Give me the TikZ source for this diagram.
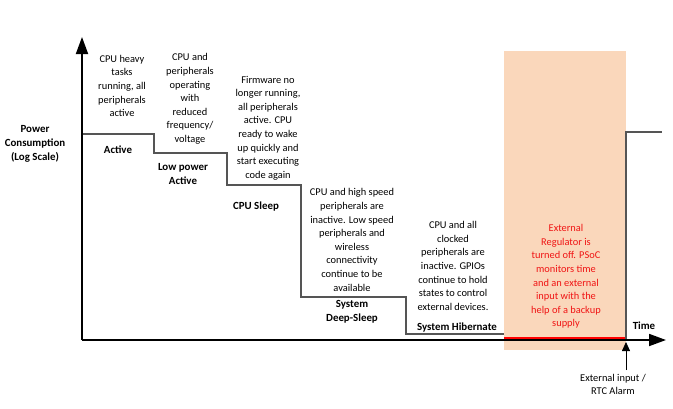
\documentclass[tikz,border=0pt]{standalone}
\usepackage{fontspec}
\setmainfont{Carlito}
\usetikzlibrary{arrows.meta}
\definecolor{peach}{RGB}{250,215,187}
\definecolor{stair}{RGB}{85,85,85}
\definecolor{redtxt}{RGB}{240,20,20}
\tikzset{
  desc/.style={align=center, font=\fontsize{10.4}{13.6}\selectfont, inner sep=0pt},
  modelbl/.style={align=center, font=\fontsize{10.9}{13.8}\selectfont\bfseries, inner sep=0pt},
  axis/.style={line width=1.8pt, draw=black},
  stairline/.style={line width=1.1pt, draw=stair},
}
\begin{document}
\begin{tikzpicture}[x=1pt,y=-1pt]
\useasboundingbox (0,0) rectangle (673,408);
% peach region
\fill[peach] (504,51) rectangle (626,350);
% coordinates
\coordinate (o) at (82,340);
\coordinate (ytip) at (82,37);
\coordinate (xtip) at (666,340);
\coordinate (s0) at (83,134);
\coordinate (s1) at (154,134);
\coordinate (s2) at (154,153);
\coordinate (s3) at (227,153);
\coordinate (s4) at (227,185);
\coordinate (s5) at (301,185);
\coordinate (s6) at (301,297);
\coordinate (s7) at (406,297);
\coordinate (s8) at (406,334);
\coordinate (s9) at (504,334);
\coordinate (r0) at (504,338);
\coordinate (r1) at (626,338);
\coordinate (u0) at (626,339);
\coordinate (u1) at (626,132);
\coordinate (u2) at (662,132);
\coordinate (ea0) at (626,370);
\coordinate (ea1) at (626,342);
% staircase
\draw[stairline] (s0) -- (s1) -- (s2) -- (s3) -- (s4) -- (s5) -- (s6) -- (s7) -- (s8) -- (s9);
\draw[line width=1.5pt, draw=red] (r0) -- (r1);
\draw[stairline] (u0) -- (u1) -- (u2);
% axes
\draw[axis, -{Triangle[length=17pt,width=12pt]}] (o) -- (ytip);
\draw[axis, -{Triangle[length=17pt,width=12pt]}] (o) -- (xtip);
\draw[line width=0.8pt, -{Triangle[length=9pt,width=8pt]}] (ea0) -- (ea1);
% labels
\node[modelbl] (ylabel) at (35,144) {Power\\Consumption\\(Log Scale)};
\node[desc] (d1) at (122,86) {CPU heavy\\tasks\\running, all\\peripherals\\active};
\node[modelbl] (m1) at (118,150) {Active};
\node[desc] (d2) at (190,99) {CPU and\\peripherals\\operating\\with\\reduced\\frequency/\\voltage};
\node[modelbl] (m2) at (183,174) {Low power\\Active};
\node[desc] (d3) at (268,128) {Firmware no\\longer running,\\all peripherals\\active. CPU\\ready to wake\\up quickly and\\start executing\\code again};
\node[modelbl] (m3) at (256,207) {CPU Sleep};
\node[desc] (d4) at (352,240) {CPU and high speed\\peripherals are\\inactive. Low speed\\peripherals and\\wireless\\connectivity\\continue to be\\available};
\node[modelbl] (m4) at (352,312) {System\\Deep-Sleep};
\node[desc] (d5) at (453,266) {CPU and all\\clocked\\peripherals are\\inactive. GPIOs\\continue to hold\\states to control\\external devices.};
\node[modelbl] (m5) at (457,328) {System Hibernate};
\node[desc, text=redtxt] (d6) at (566,276.5) {External\\Regulator is\\turned off. PSoC\\monitors time\\and an external\\input with the\\help of a backup\\supply};
\node[modelbl] (time) at (644,326) {Time};
\node[desc] (ext) at (613,384.5) {External input /\\RTC Alarm};
\end{tikzpicture}
\end{document}
